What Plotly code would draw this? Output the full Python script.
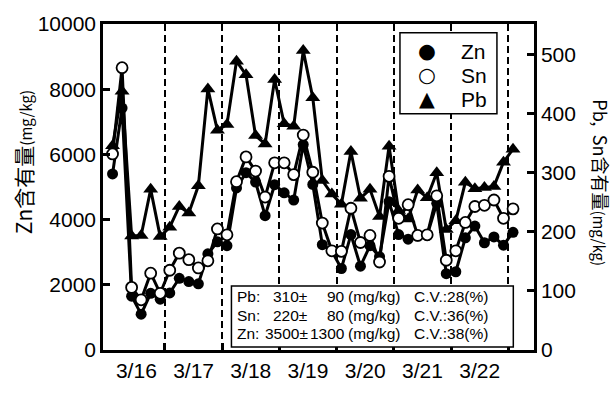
import plotly.graph_objects as go

# ---------------- data ----------------
days = ["3/16", "3/17", "3/18", "3/19", "3/20", "3/21", "3/22"]
sample_hours = [2, 6, 10, 14, 18, 22]          # 4-hour sampling within each day

zn = [5400, 7420, 1650, 1100, 1740, 1560, 1750, 2200, 2100, 2030,
      2950, 3320, 3200, 4970, 5440, 5150, 4120, 5070, 4820, 4600,
      6300, 5080, 3230, 3030, 2500, 3540, 2570, 3200, 2860, 4550,
      3540, 3400, 3500, 3520, 4500, 2340, 2400, 3440, 3800, 3290,
      3470, 3215, 3610]
sn = [332, 478, 106, 85, 130, 96, 135, 164, 153, 139,
      151, 205, 195, 285, 327, 303, 259, 317, 317, 297,
      364, 301, 215, 168, 167, 240, 182, 194, 149, 294,
      223, 246, 194, 195, 261, 152, 168, 216, 243, 245,
      254, 223, 239]
pb = [346, 438, 193, 194, 272, 192, 208, 243, 232, 278,
      442, 372, 382, 489, 466, 363, 349, 458, 383, 379,
      507, 427, 287, 264, 247, 336, 257, 272, 226, 345,
      236, 222, 271, 258, 300, 204, 219, 284, 273, 275,
      277, 318, 340]

stat_elements = ["Pb", "Sn", "Zn"]
stat_mean = [310, 220, 3500]
stat_sd = [90, 80, 1300]
stat_cv = [28, 36, 38]

left_ticks = [0, 2000, 4000, 6000, 8000, 10000]
right_ticks = [0, 100, 200, 300, 400, 500]

# time axis in hours from 3/16 00:00
t = [24 * d + h for d in range(len(days) + 1) for h in sample_hours][:len(zn)]
day_centers = [24 * d + 12 for d in range(len(days))]
day_bounds = [24 * d for d in range(1, len(days) + 1)]

NUM_FONT = "Liberation Sans, Arial, sans-serif"
JP_FONT = "Noto Sans CJK JP, sans-serif"

fig = go.Figure()

fig.add_trace(go.Scatter(
    x=t, y=zn, yaxis="y", mode="lines+markers", name="Zn",
    line=dict(color="black", width=3),
    marker=dict(symbol="circle", size=11, color="black"),
    showlegend=False))
fig.add_trace(go.Scatter(
    x=t, y=pb, yaxis="y2", mode="lines+markers", name="Pb",
    line=dict(color="black", width=3),
    marker=dict(symbol="triangle-up", size=13, color="black"),
    showlegend=False))
fig.add_trace(go.Scatter(
    x=t, y=sn, yaxis="y2", mode="lines+markers", name="Sn",
    line=dict(color="black", width=3),
    marker=dict(symbol="circle", size=11, color="white",
                line=dict(color="black", width=1.8)),
    showlegend=False))

axis_common = dict(showline=True, linecolor="black", linewidth=2.5,
                   ticks="inside", ticklen=7, tickwidth=2.5, tickcolor="black",
                   showgrid=False, zeroline=False, tickformat="d",
                   tickfont=dict(family=NUM_FONT, size=21, color="black"))

fig.update_layout(
    width=615, height=394,
    margin=dict(l=103, r=81, t=20, b=36),
    paper_bgcolor="white", plot_bgcolor="white",
    xaxis=dict(range=[-2, 178.8], tickmode="array", tickvals=day_centers,
               ticktext=days, ticks="", showline=True, linecolor="black",
               linewidth=2.5, mirror=True, showgrid=False, zeroline=False,
               tickfont=dict(family=NUM_FONT, size=21, color="black"),
               minor=dict(tickmode="array", tickvals=day_bounds, ticks="inside",
                          ticklen=7, tickwidth=2.5, tickcolor="black",
                          showgrid=True, griddash="7px,4px",
                          gridcolor="black", gridwidth=2)),
    yaxis=dict(range=[0, 10000], tickmode="array", tickvals=left_ticks,
               **axis_common),
    yaxis2=dict(range=[0, 552], tickmode="array", tickvals=right_ticks,
                overlaying="y", side="right", **axis_common),
)

annotations = []
# axis titles
annotations.append(dict(
    x=-0.185, y=0.577, xref="paper", yref="paper", showarrow=False,
    textangle=-90, xanchor="center", yanchor="middle",
    text="Zn含有量<span style='font-size:15px'>(mg/kg)</span>",
    font=dict(family=JP_FONT, size=21, color="#000000")))
annotations.append(dict(
    x=1.155, y=0.512, xref="paper", yref="paper", showarrow=False,
    textangle=90, xanchor="center", yanchor="middle",
    text="Pb,  Sn含有量<span style='font-size:15px'>(mg/kg)</span>",
    font=dict(family=JP_FONT, size=18, color="#000000")))

# legend (manual, one multi-line column for symbols and one for names)
legend_names = ["Zn", "Sn", "Pb"]
legend_glyphs = ["●", "○", "▲"]
annotations.append(dict(x=0.752, y=0.843, xref="paper", yref="paper",
                        showarrow=False, xanchor="center", yanchor="middle",
                        text="<br>".join(f"<span style='font-size:20.5px'>{g}</span>"
                                         for g in legend_glyphs),
                        align="center",
                        font=dict(family="DejaVu Sans", size=18.5, color="black")))
annotations.append(dict(x=0.826, y=0.843, xref="paper", yref="paper",
                        showarrow=False, xanchor="left", yanchor="middle",
                        text="<br>".join(f"<span style='font-size:21px'>{n}</span>"
                                         for n in legend_names),
                        align="left",
                        font=dict(family=NUM_FONT, size=18.5, color="black")))

# statistics box
stat_rows = [0.163, 0.107, 0.050]
sf = dict(family=NUM_FONT, size=15.5, color="black")
for el, m, s, cv, yy in zip(stat_elements, stat_mean, stat_sd, stat_cv, stat_rows):
    annotations.append(dict(x=0.306, y=yy, xref="paper", yref="paper", showarrow=False,
                            xanchor="left", yanchor="middle", text=f"{el}:", font=sf))
    annotations.append(dict(x=0.480, y=yy, xref="paper", yref="paper", showarrow=False,
                            xanchor="right", yanchor="middle", text=f"{m}±", font=sf))
    annotations.append(dict(x=0.566, y=yy, xref="paper", yref="paper", showarrow=False,
                            xanchor="right", yanchor="middle", text=f"{s}", font=sf))
    annotations.append(dict(x=0.563, y=yy, xref="paper", yref="paper", showarrow=False,
                            xanchor="left", yanchor="middle", text="(mg/kg)", font=sf))
    annotations.append(dict(x=0.717, y=yy, xref="paper", yref="paper", showarrow=False,
                            xanchor="left", yanchor="middle", text=f"C.V.:{cv}(%)", font=sf))

fig.update_layout(annotations=annotations)

fig.update_layout(shapes=[
    dict(type="rect", xref="paper", yref="paper", x0=0.689, x1=0.914, y0=0.725, y1=0.973,
         line=dict(color="black", width=1.5), fillcolor="white", layer="above"),
    dict(type="rect", xref="paper", yref="paper", x0=0.298, x1=0.952, y0=0.009, y1=0.196,
         line=dict(color="black", width=1.5), fillcolor="white", layer="above"),
])

fig.write_html("out.html")
